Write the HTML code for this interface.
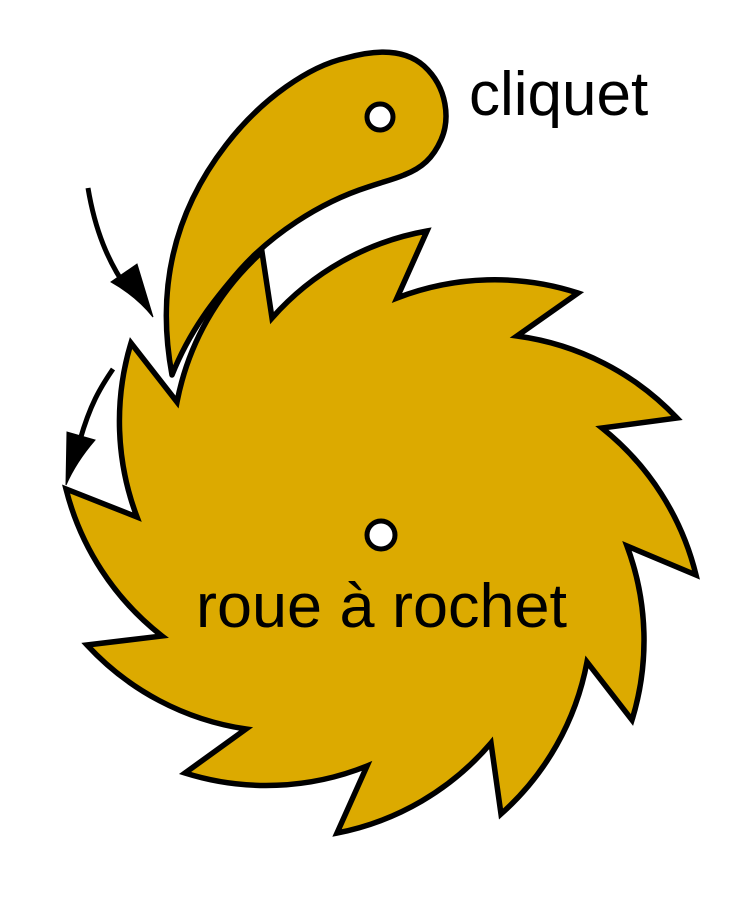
<!DOCTYPE html>
<html><head><meta charset="utf-8"><style>
html,body{margin:0;padding:0;background:#fff;}
svg{display:block;}
text{font-family:"Liberation Sans",sans-serif;fill:#000;}
</style></head><body>
<svg width="750" height="900" viewBox="0 0 750 900">
<path id="wheel" fill="#dcaa00" stroke="#000" stroke-width="5.5" stroke-linejoin="miter"/>
<circle cx="381" cy="535" r="14" fill="#fff" stroke="#000" stroke-width="5"/>
<path fill="#dcaa00" stroke="#000" stroke-width="5.5" stroke-linejoin="round"
 d="M172,375 C158,300 168,220 226,145 C262,98 310,66 346,58 C374,50 404,48 424,66 C448,88 450,120 441,140 C433,158 422,168 404,175 C392,180 382,182 368,187 C318,203 270,236 240,270 C214,300 190,330 172,375 Z"/>
<circle cx="380" cy="117" r="13" fill="#fff" stroke="#000" stroke-width="5"/>
<g>
<path d="M88,188 C95,230 108,262 128,290" fill="none" stroke="#000" stroke-width="5"/>
<path d="M153,317 L137,264 L111,282 Q136,296 153,317 Z" fill="#000" stroke="#000" stroke-width="1"/>
</g>
<g>
<path d="M113,369 C100,388 90,405 80,440" fill="none" stroke="#000" stroke-width="5"/>
<path d="M66,485 L67,432 L95,440 Q76,462 66,485 Z" fill="#000" stroke="#000" stroke-width="1"/>
</g>
<text x="469" y="115" font-size="62">cliquet</text>
<text x="196" y="627" font-size="62" textLength="371" lengthAdjust="spacingAndGlyphs">roue à rochet</text>
</svg>
<script>
const tips = [[427,231],[578,293],[677,418],[696,575],[632,720],[501,814],[337,833],[185,773],[87,645],[66,489],[131,343],[262,252]];
const roots = [[397,298],[517,336],[602,428],[627,546],[587,662],[491,743],[367,766],[246,729],[162,636],[137,517],[177,402],[272,318]];
let d = 'M' + tips[0].join(',');
for (let i = 0; i < tips.length; i++) {
  const r = roots[i], t = tips[(i + 1) % tips.length];
  d += ' L' + r.join(',') + ' A270,270 0 0 1 ' + t.join(',');
}
d += ' Z';
document.getElementById('wheel').setAttribute('d', d);
</script>
</body></html>
